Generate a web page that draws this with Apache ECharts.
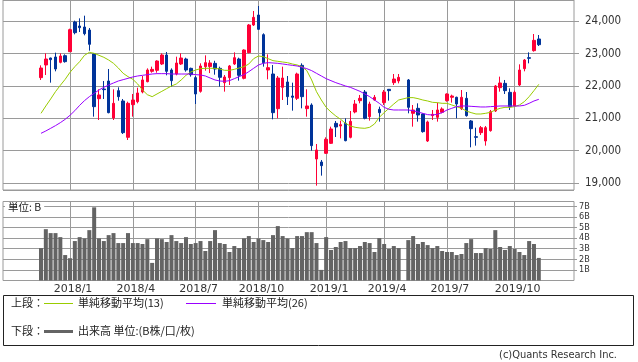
<!DOCTYPE html>
<html><head><meta charset="utf-8">
<script src="https://cdn.jsdelivr.net/npm/echarts@6.0.0/dist/echarts.min.js"></script>
<style>html,body{margin:0;padding:0;background:#fff}#c{width:638px;height:362px}</style>
</head><body><div id="c"></div>
<script>
// ---- data (weekly) ----
const weeks = [
'2017/11/20','2017/11/27','2017/12/04','2017/12/11','2017/12/18','2017/12/25',
'2018/01/01','2018/01/08','2018/01/15','2018/01/22','2018/01/29',
'2018/02/05','2018/02/12','2018/02/19','2018/02/26',
'2018/03/05','2018/03/12','2018/03/19','2018/03/26',
'2018/04/02','2018/04/09','2018/04/16','2018/04/23','2018/04/30',
'2018/05/07','2018/05/14','2018/05/21','2018/05/28',
'2018/06/04','2018/06/11','2018/06/18','2018/06/25',
'2018/07/02','2018/07/09','2018/07/16','2018/07/23','2018/07/30',
'2018/08/06','2018/08/13','2018/08/20','2018/08/27',
'2018/09/03','2018/09/10','2018/09/17','2018/09/24',
'2018/10/01','2018/10/08','2018/10/15','2018/10/22','2018/10/29',
'2018/11/05','2018/11/12','2018/11/19','2018/11/26',
'2018/12/03','2018/12/10','2018/12/17','2018/12/24','2018/12/31',
'2019/01/07','2019/01/14','2019/01/21','2019/01/28',
'2019/02/04','2019/02/11','2019/02/18','2019/02/25',
'2019/03/04','2019/03/11','2019/03/18','2019/03/25',
'2019/04/01','2019/04/08','2019/04/15','2019/04/22','2019/04/29',
'2019/05/06','2019/05/13','2019/05/20','2019/05/27',
'2019/06/03','2019/06/10','2019/06/17','2019/06/24',
'2019/07/01','2019/07/08','2019/07/15','2019/07/22','2019/07/29',
'2019/08/05','2019/08/12','2019/08/19','2019/08/26',
'2019/09/02','2019/09/09','2019/09/16','2019/09/23','2019/09/30',
'2019/10/07','2019/10/14','2019/10/21','2019/10/28',
'2019/11/04','2019/11/11'];

// [open, close, low, high]
const ohlc = [
[22258,22557,22186,22639],[22650,22835,22340,23010],[22866,22814,22103,22876],[22897,22526,22454,23031],
[22732,22928,22701,23010],[22938,22753,22722,22979],[23062,23742,23052,23773],[23979,23649,23598,24021],
[23856,23804,23670,24093],[23825,23619,23567,24175],[23732,23289,23093,23794],[22990,21361,21052,23010],
[21608,21722,20948,21897],[21907,21887,21598,22155],[22155,21175,21155,22526],[21010,21464,20948,21897],
[21856,21670,21546,21959],[21536,20557,20515,21598],[20412,21464,20330,21515],[21423,21567,21052,21753],
[21515,21784,21464,21948],[21814,22186,21773,22309],[22134,22495,22113,22546],[22454,22515,22412,22598],
[22485,22773,22412,22794],[22680,22959,22650,23010],[22959,22454,22330,23052],[22495,22165,21979,22546],
[22371,22711,22330,22907],[22680,22866,22650,23010],[22835,22495,22443,22876],[22546,22350,22289,22567],
[22258,21753,21443,22309],[21835,22619,21794,22701],[22598,22722,22474,22948],[22600,22712,22400,22800],
[22700,22525,22350,22780],[22546,22268,21979,22598],[22103,22278,21825,22340],[22258,22619,22031,22650],
[22680,22876,22650,23041],[22835,22330,22165,22876],[22237,23113,22206,23134],[23031,23887,23010,23918],
[23887,24124,23856,24320],[24196,23753,23732,24474],[23588,22722,22598,23629],[22495,22567,22206,22979],
[22371,21175,20969,22650],[21299,22247,21000,22309],[21959,22247,21567,22598],[22124,21670,21412,22309],
[21691,21650,21237,22103],[21619,22371,21567,22412],[22639,21670,21309,22701],[21299,21382,21052,21897],
[21412,20155,20000,21464],[19742,20021,18918,20206],[19649,19536,19227,19711],[19918,20351,19897,20412],
[20227,20670,20206,20742],[20845,20732,20423,20918],[20763,20804,20381,20928],[20845,20309,20289,21000],
[20412,20907,20381,21227],[21196,21443,21155,21567],[21546,21619,21464,21722],[21814,21000,20969,21876],
[21052,21443,20928,21515],[21567,21650,21546,21722],[21278,21175,20897,21361],[21485,21814,21412,21876],
[21897,21856,21546,21907],[22103,22216,22031,22371],[22155,22268,22082,22371],['-','-','-','-'],
[22186,21340,21155,22216],[21155,21258,20742,21412],[21309,21103,20897,21464],[21134,20588,20557,21155],
[20299,20887,20268,20928],[21083,21124,20948,21258],[21031,21258,20897,21485],[21186,21289,21155,21340],
[21546,21753,21515,21773],[21650,21691,21485,21732],[21650,21443,21000,21670],[21299,21650,21258,21876],
[21619,21083,21052,21814],[20918,20680,20103,20948],[20433,20412,20155,20711],[20557,20711,20485,20763],
[20299,20711,20155,20763],[20619,21206,20588,21258],[21227,22000,21196,22031],[21948,22093,21825,22289],
[22082,21856,21753,22186],[21804,21361,21258,21928],[21382,21804,21361,21856],[22031,22495,22000,22670],
[22536,22804,22454,22835],[22876,22856,22701,23041],[23093,23412,23062,23608],[23454,23278,23237,23577]];

// volume (B shares)
const volume = [
3.06,4.84,4.47,4.47,4.09,2.4,2.1,3.72,4.09,3.97,4.75,6.9,3.97,3.72,4.28,4.47,3.53,3.53,4.47,3.53,
3.53,3.44,3.9,1.66,3.97,3.9,3.63,4.28,3.72,3.53,4.09,3.44,3.53,3.72,2.78,3.72,4.75,3.53,3.44,2.69,
3.25,3.06,3.97,4.19,3.63,3.97,3.81,3.63,4.28,5.13,4.19,3.97,3.06,4.19,4.19,4.56,4.56,3.53,1.0,4.09,
2.88,3.16,3.63,3.72,3.06,3.06,3.25,3.63,3.53,2.69,4.0,3.44,2.97,3.25,3.06,'-',3.81,4.19,3.44,3.63,
3.34,3.06,3.25,2.78,2.69,2.69,2.4,2.5,3.53,3.9,2.59,2.59,3.06,2.97,4.75,3.16,2.88,3.25,2.97,2.69,
2.4,3.72,3.44,2.13];

// simple moving average (13 weeks)
const ma13 = [
21155,21382,21598,21825,22021,22207,22423,22598,22753,22949,23041,23011,22949,22887,22804,22701,22557,22392,22289,22207,
22062,21877,21732,21670,21753,21835,21918,22000,22062,22186,22330,22433,22495,22536,22547,22547,22547,22526,22485,22485,
22516,22557,22598,22681,22846,22928,22907,22846,22784,22763,22742,22722,22681,22650,22598,22475,22186,21825,21567,21340,
21196,21072,20969,20846,20763,20722,20701,20691,20722,20825,21031,21176,21310,21444,21567,'-',21640,21640,21609,21567,
21536,21495,21485,21464,21464,21413,21361,21310,21227,21176,21134,21134,21155,21186,21258,21310,21340,21340,21361,21413,
21515,21670,21856,22052];

// simple moving average (26 weeks)
const ma26 = [
20536,20609,20691,20774,20866,20969,21093,21237,21402,21547,21670,21774,21877,21959,22031,22093,22155,22196,22237,22279,
22310,22330,22351,22371,22382,22382,22382,22371,22371,22371,22371,22371,22351,22341,22310,22248,22186,22155,22145,22165,
22227,22289,22351,22444,22547,22650,22701,22722,22712,22701,22681,22660,22639,22619,22578,22536,22475,22392,22310,22227,
22165,22103,22052,22000,21959,21897,21835,21753,21670,21567,21464,21340,21279,21258,21258,'-',21258,21237,21196,21155,
21114,21103,21124,21176,21258,21310,21361,21382,21382,21371,21361,21351,21351,21361,21371,21382,21382,21382,21382,21382,
21402,21464,21536,21588];

// month gridlines / labels
const monthTicks  = ['2018/01/01','2018/04/02','2018/07/02','2018/10/01','2019/01/07','2019/04/01','2019/07/01','2019/10/07'];
const monthLabels = ['2018/1','2018/4','2018/7','2018/10','2019/1','2019/4','2019/7','2019/10'];

// ---- chart ----
const GRID = '#9a9a9a';
const UP = '#ff0036', DOWN = '#003399';
const PMIN = 18783, PMAX = 24660, VMAX = 7.45;
const isMonth = (i, v) => monthTicks.indexOf(v) >= 0;

const chart = echarts.init(document.getElementById('c'), null, {renderer: 'canvas'});
chart.setOption({
  animation: false,
  backgroundColor: '#fff',
  grid: [
    {left: 3, right: 64, top: 0, height: 190, show: true, borderColor: GRID, borderWidth: 1, backgroundColor: 'transparent', containLabel: false, outerBoundsMode: 'none'},
    {left: 41, right: 99.2, top: 0, height: 190, show: false, containLabel: false, outerBoundsMode: 'none'},
    {left: 3, right: 64, top: 201.5, height: 79, show: true, borderColor: GRID, borderWidth: 1, backgroundColor: 'transparent', containLabel: false, outerBoundsMode: 'none'},
    {left: 41, right: 99.2, top: 201.5, height: 79, show: false, containLabel: false, outerBoundsMode: 'none'}
  ],
  xAxis: [
    {gridIndex: 0, type: 'category', data: [''], show: false},
    {gridIndex: 1, type: 'category', data: weeks, boundaryGap: false,
     axisLine: {show: false}, axisTick: {show: false}, axisLabel: {show: false},
     splitLine: {show: true, interval: isMonth, lineStyle: {color: GRID, width: 1}}},
    {gridIndex: 2, type: 'category', data: [''], show: false},
    {gridIndex: 3, type: 'category', data: weeks, boundaryGap: false,
     axisLine: {show: false}, axisTick: {show: false},
     axisLabel: {show: true, interval: isMonth, margin: 3, fontSize: 11, color: '#333',
       fontFamily: 'DejaVu Sans', padding: [0, 0, 0, 6],
       formatter: v => monthLabels[monthTicks.indexOf(v)] || ''},
     splitLine: {show: true, interval: isMonth, lineStyle: {color: GRID, width: 1}}}
  ],
  yAxis: [
    {gridIndex: 0, type: 'value', position: 'right', min: PMIN, max: PMAX, minInterval: 1000, maxInterval: 1000,
     axisLine: {show: false},
     axisTick: {show: true, inside: false, length: 5, lineStyle: {color: GRID}},
     axisLabel: {show: true, margin: 11, fontSize: 11.5, color: '#333', fontFamily: 'DejaVu Sans Condensed, DejaVu Sans',
       showMinLabel: false, showMaxLabel: false},
     splitLine: {show: true, lineStyle: {color: GRID, width: 1}}},
    {gridIndex: 1, type: 'value', min: PMIN, max: PMAX, show: false, splitLine: {show: false}},
    {gridIndex: 2, type: 'value', position: 'right', min: 0, max: VMAX, minInterval: 1, maxInterval: 1,
     axisLine: {show: false},
     axisTick: {show: true, inside: false, length: 3, lineStyle: {color: GRID}},
     axisLabel: {show: true, margin: 5, fontSize: 9, color: '#333', fontFamily: 'Liberation Sans Narrow, DejaVu Sans Condensed',
       showMinLabel: false, showMaxLabel: false, formatter: v => v ? v + 'B' : ''},
     splitLine: {show: true, lineStyle: {color: GRID, width: 1}}},
    {gridIndex: 3, type: 'value', min: 0, max: VMAX, show: false, splitLine: {show: false}}
  ],
  series: [
    {type: 'candlestick', xAxisIndex: 1, yAxisIndex: 1, data: ohlc, barWidth: 3, clip: false,
     itemStyle: {color: UP, color0: DOWN, borderColor: UP, borderColor0: DOWN, borderWidth: 1}},
    {type: 'line', xAxisIndex: 1, yAxisIndex: 1, data: ma13, showSymbol: false, connectNulls: true, clip: false,
     lineStyle: {color: '#99cc00', width: 1}, itemStyle: {color: '#99cc00'}, z: 3},
    {type: 'line', xAxisIndex: 1, yAxisIndex: 1, data: ma26, showSymbol: false, connectNulls: true, clip: false,
     lineStyle: {color: '#9900ff', width: 1}, itemStyle: {color: '#9900ff'}, z: 3},
    {type: 'bar', xAxisIndex: 3, yAxisIndex: 3, data: volume, barWidth: 4, clip: false,
     itemStyle: {color: '#646464'}}
  ],
  graphic: [
    {type: 'text', left: 5, top: 202, z: 10,
     style: {text: '単位: B', fill: '#222', font: '10.5px "Noto Sans CJK JP"', backgroundColor: '#fff', padding: [0, 3, 0, 3]}},
    {type: 'rect', shape: {x: 3.5, y: 295.5, width: 630, height: 50},
     style: {fill: '#fff', stroke: '#222', lineWidth: 1}},
    {type: 'text', x: 11, y: 303, style: {text: '上段：', fill: '#222', font: '11px "Noto Sans CJK JP"', verticalAlign: 'middle'}},
    {type: 'line', shape: {x1: 44, y1: 303.5, x2: 73, y2: 303.5}, style: {stroke: '#99cc00', lineWidth: 1}},
    {type: 'text', x: 78, y: 303, style: {text: '単純移動平均(13)', fill: '#222', font: '11px "Noto Sans CJK JP"', verticalAlign: 'middle'}},
    {type: 'line', shape: {x1: 186, y1: 303.5, x2: 216, y2: 303.5}, style: {stroke: '#9900ff', lineWidth: 1}},
    {type: 'text', x: 222, y: 303, style: {text: '単純移動平均(26)', fill: '#222', font: '11px "Noto Sans CJK JP"', verticalAlign: 'middle'}},
    {type: 'text', x: 11, y: 331, style: {text: '下段：', fill: '#222', font: '11px "Noto Sans CJK JP"', verticalAlign: 'middle'}},
    {type: 'line', shape: {x1: 44, y1: 331.5, x2: 73, y2: 331.5}, style: {stroke: '#646464', lineWidth: 3}},
    {type: 'text', x: 78, y: 331, style: {text: '出来高 単位:(B株/口/枚)', fill: '#222', font: '11px "Noto Sans CJK JP"', verticalAlign: 'middle'}},
    {type: 'text', x: 617, y: 355, style: {text: '(c)Quants Research Inc.', fill: '#333', font: '11px "DejaVu Sans Condensed", "DejaVu Sans"', align: 'right', verticalAlign: 'middle'}}
  ]
});
</script>
</body></html>
